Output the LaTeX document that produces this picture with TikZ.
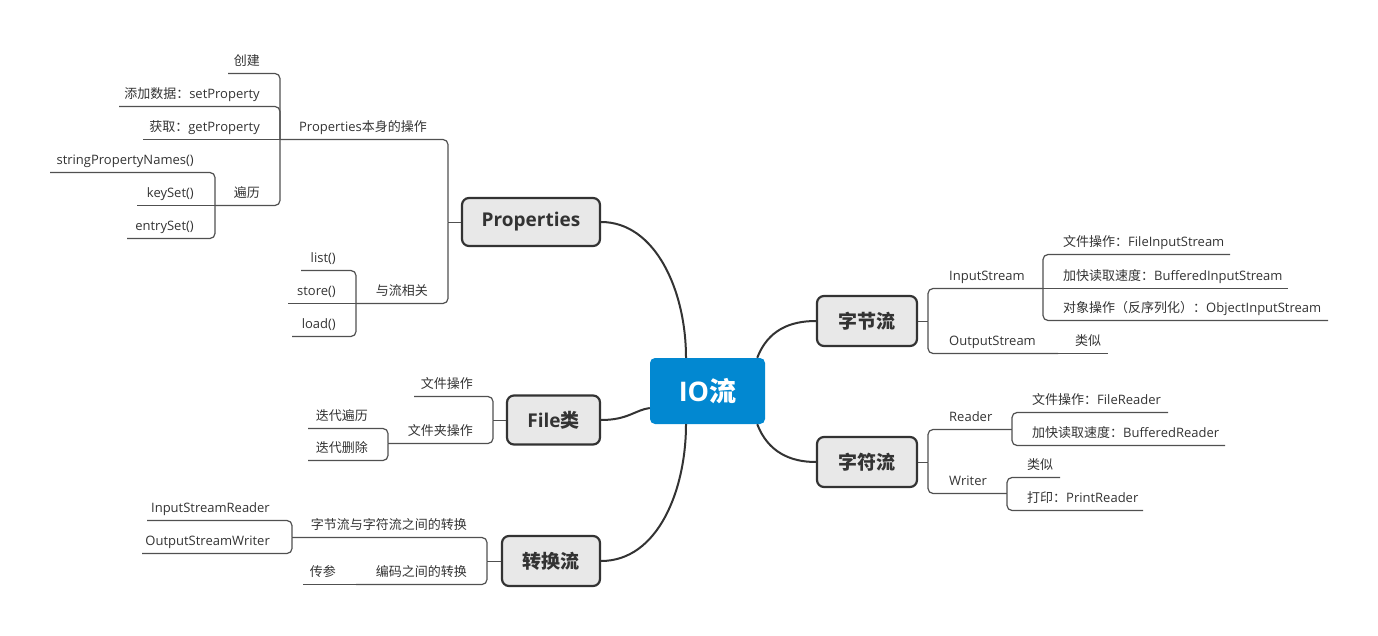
\documentclass[tikz,border=0pt]{standalone}
\usepackage{fontspec}
\setmainfont{Open Sans}
\newfontfamily\cjk{Noto Sans CJK SC}
\definecolor{txt}{HTML}{333333}
\definecolor{ln}{HTML}{505050}
\definecolor{mainfill}{HTML}{E8E8E8}
\definecolor{iofill}{HTML}{0288D1}
\begin{document}
\begin{tikzpicture}[x=1pt,y=-1pt,
  lbl/.style={font=\fontsize{13}{15}\selectfont, text=txt, inner sep=0pt},
  lblL/.style={lbl, anchor=base east},
  lblR/.style={lbl, anchor=base west},
  sub/.style={draw=ln, line width=1.2pt, rounded corners=5pt},
  mainbox/.style={draw=txt, fill=mainfill, line width=2.2pt, rounded corners=7pt,
    font=\fontsize{19}{22}\selectfont\bfseries, text=txt, inner sep=0pt},
  iobox/.style={fill=iofill, rounded corners=5pt, inner sep=0pt,
    font=\fontsize{27}{30}\selectfont\bfseries, text=white},
  conn/.style={draw=txt, line width=2pt},
]
\useasboundingbox (0,0) rectangle (1378,636);

% central and main nodes
\node[iobox, minimum width=115pt, minimum height=66pt] (io) at (707.5,391) {IO{\cjk\bfseries 流}};
\node[mainbox, minimum width=138pt, minimum height=48pt] (prop) at (531,222) {Properties};
\node[mainbox, minimum width=100pt, minimum height=50pt] (byte) at (867,321) {\cjk\bfseries 字节流};
\node[mainbox, minimum width=100pt, minimum height=50pt] (char) at (867,462) {\cjk\bfseries 字符流};
\node[mainbox, minimum width=93pt, minimum height=49pt] (file) at (553.5,420) {File{\cjk\bfseries 类}};
\node[mainbox, minimum width=98pt, minimum height=50pt] (conv) at (551,561) {\cjk\bfseries 转换流};

% main connectors
\draw[conn] (prop.east) .. controls (655,222) and (686,290) .. ([xshift=-21.5pt]io.north);
\draw[conn] (file.east) .. controls (628,420) and (635,410) .. ([yshift=-17pt]io.west);
\draw[conn] (conv.east) .. controls (658,561) and (686,490) .. ([xshift=-21.5pt]io.south);
\draw[conn] ([xshift=-8pt]io.north east) .. controls (768,330) and (790,321) .. (byte.west);
\draw[conn] ([xshift=-8pt]io.south east) .. controls (768,452) and (790,462) .. (char.west);

\begin{scope}[shift={(0,0.5)}]
% ---------- Properties ----------
\coordinate (propJ) at (448,222);
\draw[sub] (prop.west |- propJ) -- (propJ);
\coordinate (p1) at (280,139);
\node[lblL] (tp1) at (427,131) {Properties{\cjk 本身的操作}};
\draw[sub] (propJ) |- (p1);
\coordinate (p11) at (228,73);
\node[lblL] (tp11) at (260,65) {\cjk 创建};
\draw[sub] (p1) |- (p11);
\coordinate (p12) at (119,106);
\node[lblL] (tp12) at (260,98) {{\cjk 添加数据：}setProperty};
\draw[sub] (p1) |- (p12);
\coordinate (p13) at (143,139);
\node[lblL] (tp13) at (260,131) {{\cjk 获取：}getProperty};
\draw[sub] (p1) -- (p13);
\coordinate (p14) at (215,205);
\node[lblL] (tp14) at (260,197) {\cjk 遍历};
\draw[sub] (p1) |- (p14);
\coordinate (p141) at (50,172);
\node[lblL] (tp141) at (194,164) {stringPropertyNames()};
\draw[sub] (p14) |- (p141);
\coordinate (p142) at (137,205);
\node[lblL] (tp142) at (194,197) {keySet()};
\draw[sub] (p14) -- (p142);
\coordinate (p143) at (127,238);
\node[lblL] (tp143) at (194,230) {entrySet()};
\draw[sub] (p14) |- (p143);
\coordinate (p2) at (356,303);
\node[lblL] (tp2) at (428,295) {\cjk 与流相关};
\draw[sub] (propJ) |- (p2);
\coordinate (p21) at (301,270);
\node[lblL] (tp21) at (336,262) {list()};
\draw[sub] (p2) |- (p21);
\coordinate (p22) at (288,303);
\node[lblL] (tp22) at (336,295) {store()};
\draw[sub] (p2) -- (p22);
\coordinate (p23) at (292,336);
\node[lblL] (tp23) at (336,328) {load()};
\draw[sub] (p2) |- (p23);

% ---------- File ----------
\coordinate (fileJ) at (493,420);
\draw[sub] (file.west |- fileJ) -- (fileJ);
\coordinate (f1) at (414,396);
\node[lblL] (tf1) at (473,388) {\cjk 文件操作};
\draw[sub] (fileJ) |- (f1);
\coordinate (f2) at (388,443);
\node[lblL] (tf2) at (473,435) {\cjk 文件夹操作};
\draw[sub] (fileJ) |- (f2);
\coordinate (f21) at (308,428);
\node[lblL] (tf21) at (368,420) {\cjk 迭代遍历};
\draw[sub] (f2) |- (f21);
\coordinate (f22) at (308,460);
\node[lblL] (tf22) at (368,452) {\cjk 迭代删除};
\draw[sub] (f2) |- (f22);

% ---------- conversion ----------
\coordinate (convJ) at (487,561);
\draw[sub] (conv.west |- convJ) -- (convJ);
\coordinate (v1) at (292,537);
\node[lblL] (tv1) at (467,529) {\cjk 字节流与字符流之间的转换};
\draw[sub] (convJ) |- (v1);
\coordinate (v11) at (147,520);
\node[lblL] (tv11) at (270,512) {InputStreamReader};
\draw[sub] (v1) |- (v11);
\coordinate (v12) at (142,553);
\node[lblL] (tv12) at (270,545) {OutputStreamWriter};
\draw[sub] (v1) |- (v12);
\coordinate (v2) at (356,584);
\node[lblL] (tv2) at (467,576) {\cjk 编码之间的转换};
\draw[sub] (convJ) |- (v2);
\coordinate (v21) at (303,584);
\node[lblL] (tv21) at (336,576) {\cjk 传参};
\draw[sub] (v2) -- (v21);

% ---------- byte streams ----------
\coordinate (byteJ) at (928,321);
\draw[sub] (byte.east |- byteJ) -- (byteJ);
\coordinate (b1) at (1043,288);
\node[lblR] (tb1) at (949,280) {InputStream};
\draw[sub] (byteJ) |- (b1);
\coordinate (b11) at (1230,254);
\node[lblR] (tb11) at (1063,246) {{\cjk 文件操作：}FileInputStream};
\draw[sub] (b1) |- (b11);
\coordinate (b12) at (1288,288);
\node[lblR] (tb12) at (1063,280) {{\cjk 加快读取速度：}BufferedInputStream};
\draw[sub] (b1) -- (b12);
\coordinate (b13) at (1328,320);
\node[lblR] (tb13) at (1063,312) {{\cjk 对象操作（反序列化）：}ObjectInputStream};
\draw[sub] (b1) |- (b13);
\coordinate (b2) at (1058,353);
\node[lblR] (tb2) at (949,345) {OutputStream};
\draw[sub] (byteJ) |- (b2);
\coordinate (b21) at (1108,353);
\node[lblR] (tb21) at (1075,345) {\cjk 类似};
\draw[sub] (b2) -- (b21);

% ---------- char streams ----------
\coordinate (charJ) at (928,462);
\draw[sub] (char.east |- charJ) -- (charJ);
\coordinate (c1) at (1012,429);
\node[lblR] (tc1) at (949,421) {Reader};
\draw[sub] (charJ) |- (c1);
\coordinate (c11) at (1168,412);
\node[lblR] (tc11) at (1032,404) {{\cjk 文件操作：}FileReader};
\draw[sub] (c1) |- (c11);
\coordinate (c12) at (1225,445);
\node[lblR] (tc12) at (1032,437) {{\cjk 加快读取速度：}BufferedReader};
\draw[sub] (c1) |- (c12);
\coordinate (c2) at (1007,493);
\node[lblR] (tc2) at (949,485) {Writer};
\draw[sub] (charJ) |- (c2);
\coordinate (c21) at (1060,477);
\node[lblR] (tc21) at (1027,469) {\cjk 类似};
\draw[sub] (c2) |- (c21);
\coordinate (c22) at (1143,510);
\node[lblR] (tc22) at (1027,502) {{\cjk 打印：}PrintReader};
\draw[sub] (c2) |- (c22);
\end{scope}
\end{tikzpicture}
\end{document}
